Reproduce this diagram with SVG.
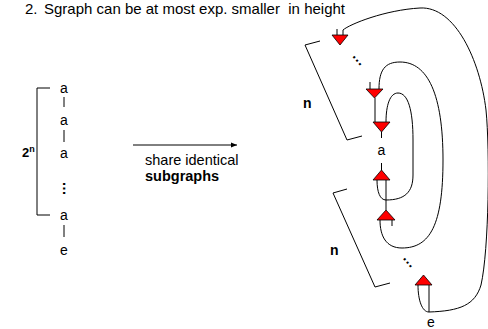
<svg xmlns="http://www.w3.org/2000/svg" width="488" height="329" viewBox="0 0 488 329">
<style>
text{font-family:"Liberation Sans",Arial,sans-serif;fill:#000}
.t{font-size:14px}
.b{font-weight:bold}
.tri{fill:#FF0000;stroke:#000;stroke-width:0.8}
.ln{fill:none;stroke:#000;stroke-width:1}
</style>
<defs>
<marker id="ah" viewBox="0 0 10 10" refX="10" refY="5" markerWidth="6" markerHeight="6" orient="auto" markerUnits="userSpaceOnUse">
<path d="M0,1 L10,5 L0,9 Z" fill="#000"/>
</marker>
</defs>
<text id="title" x="25" y="13.5" font-size="15" xml:space="preserve">2.<tspan x="44">Sgraph can be at most exp. smaller  in height</tspan></text>

<g id="left-chain">
<text class="t" x="64" y="93" text-anchor="middle">a</text>
<text class="t" x="64" y="125" text-anchor="middle">a</text>
<text class="t" x="64" y="158" text-anchor="middle">a</text>
<text class="t b" transform="translate(64,188.5) rotate(90)" text-anchor="middle" y="1.5">…</text>
<text class="t" x="64" y="220" text-anchor="middle">a</text>
<text class="t" x="64" y="255" text-anchor="middle">e</text>
<path class="ln" d="M64,97 V107 M64,130 V142 M64,225 V237"/>
<path class="ln" d="M50,88 H37 V215 H50"/>
<text class="b" x="22" y="157" font-size="13">2<tspan font-size="9" dy="-5">n</tspan></text>
</g>

<g id="transform-arrow">
<line class="ln" x1="133" y1="145" x2="237" y2="145" marker-end="url(#ah)"/>
<text x="145" y="165" font-size="14.5">share identical</text>
<text class="b" x="145" y="181" font-size="14.5">subgraphs</text>
</g>

<g id="connectors">
<path class="ln" d="M337,29 V35"/>
<path class="ln" d="M343,35 V30 C350,24 385,10 420,8 C455,6 480,60 486,110 C490,150 489,250 481,285 C475,305 460,311 429,312"/>
<path class="ln" d="M429,285 V312 M418,285 C418,300 422,312 429,312"/>
<path class="ln" d="M370,82 V89"/>
<path class="ln" d="M379,89 C379,70 385,62 400,62 C428,62 443,95 443,160 C443,225 430,248 402,248 C386,248 380,236 380,220"/>
<path class="ln" d="M375,98 V122"/>
<path class="ln" d="M386,122 C386,105 390,93 398,93 C408,93 413,110 413,140 V175 C413,192 405,200 386,200"/>
<path class="ln" d="M381.5,132 V138 M381.5,163 V170"/>
<path class="ln" d="M377,180 C377,192 380,200 386,200 M386,180 V210"/>
<path class="ln" d="M392,220 V226"/>
<path class="ln" d="M320,41 L305,45 L347,140 L362,136"/>
<path class="ln" d="M347,189 L333,193 L375,287 L390,283"/>
</g>

<g id="node-t1"><path class="tri" d="M332,35 H348 L340,45 Z"/></g>
<g id="node-t2"><path class="tri" d="M366,89 H383 L374.5,98 Z"/></g>
<g id="node-t3"><path class="tri" d="M373,122 H390 L381.5,132 Z"/></g>
<g id="node-a"><text class="t" x="381.5" y="155" text-anchor="middle">a</text></g>
<g id="node-u1"><path class="tri" d="M381.5,170 L390,180 H373 Z"/></g>
<g id="node-u2"><path class="tri" d="M386,210 L395,220 H377 Z"/></g>
<g id="node-u3"><path class="tri" d="M423.5,275 L432,285 H415 Z"/></g>
<g id="node-e"><text class="t" x="431" y="327" text-anchor="middle">e</text></g>

<g id="labels">
<text class="t b" transform="translate(357.5,60.5) rotate(50)" text-anchor="middle" y="1.5" font-size="18">…</text>
<text class="t b" transform="translate(408,262.5) rotate(50)" text-anchor="middle" y="1.5" font-size="18">…</text>
<text class="t b" x="303" y="108">n</text>
<text class="t b" x="330" y="255">n</text>
</g>
</svg>
